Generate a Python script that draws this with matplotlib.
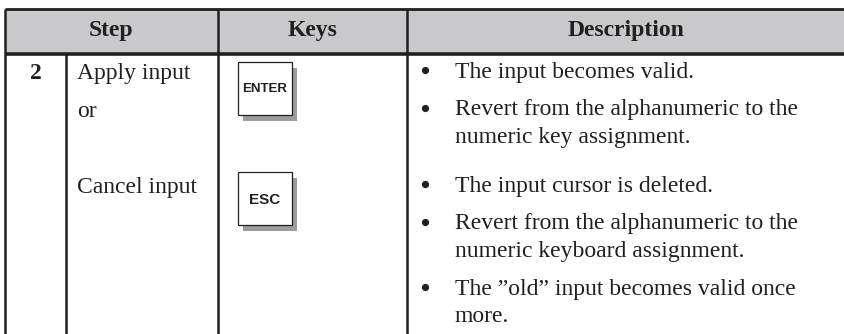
import matplotlib.pyplot as plt
from matplotlib.patches import Rectangle

# ----------------- table content -----------------
headers = ["Step", "Keys", "Description"]
step_number = "2"
actions = ["Apply input", "or", "Cancel input"]
keys = ["ENTER", "ESC"]
descriptions = [
    ["The input becomes valid.",
     "Revert from the alphanumeric to the\nnumeric key assignment."],
    ["The input cursor is deleted.",
     "Revert from the alphanumeric to the\nnumeric keyboard assignment.",
     "The \u201dold\u201d input becomes valid once\nmore."],
]

# ----------------- layout (pixels) -----------------
W, H = 845, 334
col_x = [5, 218, 407, W]          # outer column edges
sub_x = 66                        # divider inside the Step column
head_top, head_bot = 9, 54
row_base = [78, 192]              # baseline of each key row
action_base = [78, 116, 192]
key_top = [62, 172]
key_w, key_h = 54, 53
key_fs = [9.5, 11]
line_gap, bullet_gap = 27.5, 37.5

ink = "#231f20"
serif = "Liberation Serif"
fs = 17

fig = plt.figure(figsize=(W / 100, H / 100), dpi=100)
ax = fig.add_axes([0, 0, 1, 1])
ax.set_xlim(0, W)
ax.set_ylim(H, 0)
ax.axis("off")

# header band
ax.add_patch(Rectangle((col_x[0], head_top), W - col_x[0], head_bot - head_top,
                       facecolor="#c9c9cb", edgecolor="none"))
ax.plot([col_x[0], W], [head_top, head_top], color=ink, lw=2.0, clip_on=False,
        solid_capstyle="butt")
ax.plot([col_x[0], W], [head_bot, head_bot], color=ink, lw=2.6, clip_on=False,
        solid_capstyle="butt")
for x in col_x[:3]:
    ax.plot([x, x], [head_top, H], color=ink, lw=1.8, clip_on=False,
            solid_capstyle="butt")
ax.plot([sub_x, sub_x], [head_bot, H], color=ink, lw=1.8, clip_on=False,
        solid_capstyle="butt")

for i, h in enumerate(headers):
    cx = (col_x[i] + col_x[i + 1]) / 2
    ax.text(cx, 36, h, ha="center", va="baseline", fontsize=fs,
            fontweight="bold", family=serif, color=ink)

# step column
ax.text((col_x[0] + sub_x) / 2, row_base[0] + 1, step_number, ha="center",
        va="baseline", fontsize=fs, fontweight="bold", family=serif, color=ink)
for a, y in zip(actions, action_base):
    ax.text(sub_x + 11, y + 1, a, ha="left", va="baseline", fontsize=fs,
            family=serif, color=ink)

# key caps
kx = 238
for k, top, kfs in zip(keys, key_top, key_fs):
    ax.add_patch(Rectangle((kx + 5, top + 6), key_w, key_h,
                           facecolor="#9c9c9e", edgecolor="none"))
    ax.add_patch(Rectangle((kx, top), key_w, key_h, facecolor="white",
                           edgecolor=ink, lw=0.9))
    ax.text(kx + key_w / 2, top + key_h / 2 + 1, k, ha="center", va="center",
            fontsize=kfs, fontweight="bold", family="Liberation Sans", color=ink)

# description bullets
for group, y in zip(descriptions, row_base):
    for item in group:
        lines = item.split("\n")
        ax.plot(425, y - 8, marker="o", ms=5.2, color=ink, mec="none")
        for ln in lines:
            ax.text(455, y, ln, ha="left", va="baseline", fontsize=fs,
                    family=serif, color=ink)
            y += line_gap
        y += bullet_gap - line_gap

fig.savefig("out.png", dpi=100)
